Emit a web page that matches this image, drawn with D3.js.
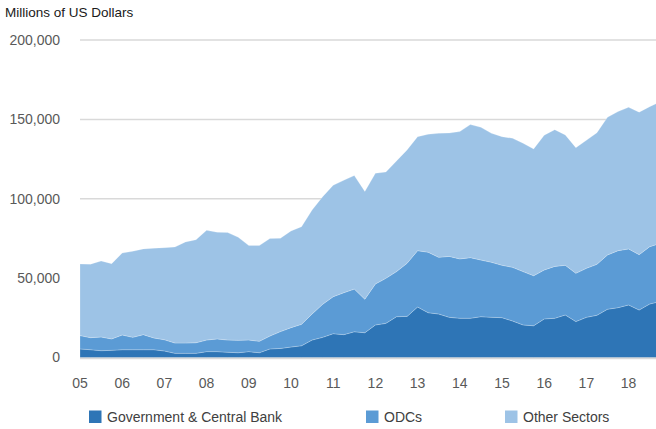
<!DOCTYPE html>
<html lang="en">
<head>
    <meta charset="UTF-8">
    <title>External Debt by Sector</title>
    <script src="https://d3js.org/d3.v7.min.js"></script>
    <style>
        body { margin: 0; background: #fff; }
        text { font-family: "Liberation Sans", Arial, sans-serif; }
    </style>
</head>
<body>
    <script>
        // quarterly positions, millions of US dollars (2005Q1 .. 2018Q4)
        const years = ["05", "06", "07", "08", "09", "10", "11", "12", "13", "14", "15", "16", "17", "18"];
        const seriesNames = ["Government & Central Bank", "ODCs", "Other Sectors"];
        const colors = ["#2e75b6", "#5b9bd5", "#9dc3e6"];

        const government = [5400, 4900, 4300, 4500, 4900, 4900, 4900, 4900, 4100, 2600,
            2600, 2600, 3700, 3700, 3300, 3000, 3700, 3000, 5400, 5700,
            6600, 7400, 11000, 12700, 15000, 14400, 16200, 15600, 20500, 21500,
            25700, 25900, 31800, 28200, 27400, 25300, 24700, 24700, 25700, 25300,
            25100, 23000, 20500, 20000, 24300, 24700, 26800, 22600, 25300, 26600,
            30400, 31400, 33100, 29900, 33700, 35300];
        const odcs = [8400, 7600, 8600, 7200, 9300, 7800, 9500, 7400, 7100, 6500,
            6500, 6700, 7300, 8000, 7700, 7800, 7300, 7200, 8100, 10600,
            12200, 13500, 16400, 20800, 23300, 26400, 26900, 21100, 25800, 28400,
            28400, 33400, 35500, 38100, 35700, 38400, 37400, 38200, 35700, 34700,
            33000, 33800, 33600, 31500, 30800, 32700, 31300, 30400, 30900, 32100,
            34200, 35900, 35300, 34900, 36100, 36600];
        const otherSectors = [45100, 46300, 47900, 47400, 51600, 54200, 54000, 56500, 58000, 60500,
            63700, 64900, 69100, 67200, 67700, 64900, 59500, 60300, 61400, 58800,
            60900, 61500, 65500, 67800, 70200, 70800, 71500, 67900, 69700, 67000,
            69700, 71400, 71800, 74300, 78100, 77700, 80200, 83800, 83600, 81200,
            81000, 81300, 80800, 79900, 84900, 86100, 82100, 79200, 80600, 82900,
            86700, 87600, 89200, 89700, 88200, 89200];
        const yTicks = [0, 50000, 100000, 150000, 200000];

        const width = 656;
        const height = 429;

        const rows = government.map((g, i) => ({
            t: 2005 + i / 4,
            gov: g,
            odc: odcs[i],
            other: otherSectors[i]
        }));

        const x = d3.scaleLinear().domain([2005, 2018]).range([80, 628.6]);
        const y = d3.scaleLinear().domain([0, 200000]).range([357.5, 40]);

        const svg = d3.select("body").append("svg")
            .attr("width", width)
            .attr("height", height);

        svg.append("text")
            .attr("x", 5)
            .attr("y", 16.5)
            .style("font-size", "13.5px")
            .style("fill", "#1a1a1a")
            .text("Millions of US Dollars");

        // grid lines
        svg.selectAll(".grid")
            .data(yTicks)
            .enter().append("line")
            .attr("class", "grid")
            .attr("x1", 80)
            .attr("x2", width)
            .attr("y1", d => y(d))
            .attr("y2", d => y(d))
            .style("stroke", "#d9d9d9")
            .style("stroke-width", 1.5);

        svg.selectAll(".ylab")
            .data(yTicks)
            .enter().append("text")
            .attr("class", "ylab")
            .attr("x", 60)
            .attr("y", d => y(d))
            .attr("dy", "0.35em")
            .attr("text-anchor", "end")
            .style("font-size", "14px")
            .style("fill", "#595959")
            .text(d => d3.format(",")(d));

        const stack = d3.stack().keys(["gov", "odc", "other"]);
        const layers = stack(rows);

        const area = d3.area()
            .x(d => x(d.data.t))
            .y0(d => y(d[0]))
            .y1(d => y(d[1]));

        svg.selectAll(".layer")
            .data(layers)
            .enter().append("path")
            .attr("class", "layer")
            .attr("d", area)
            .style("fill", (d, i) => colors[i])
            .style("stroke", "#ffffff")
            .style("stroke-opacity", 0.35)
            .style("stroke-width", 0.6);

        svg.append("line")
            .attr("x1", 80)
            .attr("x2", width)
            .attr("y1", y(0) + 1)
            .attr("y2", y(0) + 1)
            .style("stroke", "#d9d9d9")
            .style("stroke-width", 1.5);

        svg.selectAll(".xlab")
            .data(years)
            .enter().append("text")
            .attr("class", "xlab")
            .attr("x", (d, i) => x(2005 + i))
            .attr("y", 388)
            .attr("text-anchor", "middle")
            .style("font-size", "14px")
            .style("fill", "#595959")
            .text(d => d);

        // legend
        const legendX = [89, 366, 505];
        const legend = svg.selectAll(".legend")
            .data(seriesNames)
            .enter().append("g")
            .attr("class", "legend")
            .attr("transform", (d, i) => "translate(" + legendX[i] + ",410.5)");

        legend.append("rect")
            .attr("width", 12.5)
            .attr("height", 12.5)
            .style("fill", (d, i) => colors[i]);

        legend.append("text")
            .attr("x", 18)
            .attr("y", 11)
            .style("font-size", "14px")
            .style("fill", "#404040")
            .text(d => d);
    </script>
</body>
</html>
